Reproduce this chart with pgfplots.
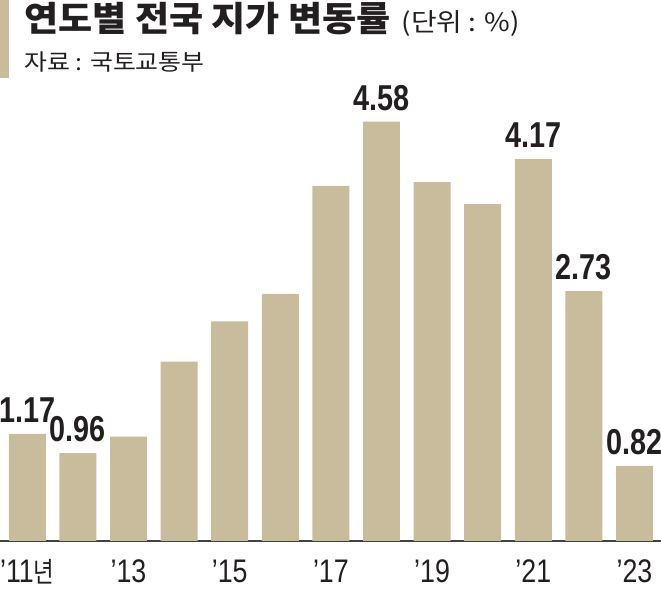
\documentclass[border=0pt]{standalone}
\usepackage{fontspec}
\usepackage{pgfplots}
\pgfplotsset{compat=1.18}
\usepackage{pgfplotstable}
\setmainfont{Liberation Sans}
\newfontfamily\kr[FakeStretch=1.1]{Noto Sans CJK KR}
\newfontfamily\krt[FakeStretch=1.07]{Noto Sans CJK KR}
\newfontfamily\krn[FakeStretch=0.8]{Noto Sans CJK KR}
\newfontfamily\numb[FakeStretch=0.8]{Liberation Sans}
\newfontfamily\tickf[FakeStretch=0.82]{Liberation Sans}
\definecolor{barc}{HTML}{C8BC9C}
\definecolor{ink}{HTML}{231F20}
\pgfplotstableread{
x y label
0 1.17 1.17
1 0.96 0.96
2 1.14 {}
3 1.96 {}
4 2.40 {}
5 2.70 {}
6 3.88 {}
7 4.58 4.58
8 3.92 {}
9 3.68 {}
10 4.17 4.17
11 2.73 2.73
12 0.82 0.82
}\landdata
\begin{document}
\begin{tikzpicture}
\useasboundingbox (0,0) rectangle (495.75pt,443.25pt);
\begin{axis}[
  at={(0pt,37.5pt)}, anchor=south west,
  scale only axis, width=495.75pt, height=343.3pt,
  xmin=-0.54, xmax=12.524, ymin=0, ymax=5,
  ybar, bar width=0.73, bar shift=0pt,
  axis y line=none, axis x line=bottom,
  x axis line style={-, draw=ink!85, line width=1.1pt},
  major tick length=0pt,
  xtick={0,2,...,12},
  xticklabels={’11{\krn\fontsize{21}{21}\selectfont 년},’13,’15,’17,’19,’21,’23},
  xticklabel style={anchor=base, yshift=-31.5pt, text=ink,
    font=\tickf\fontsize{24.5}{24.5}\selectfont},
  nodes near coords={\pgfplotspointmeta},
  point meta=explicit symbolic,
  every node near coord/.append style={anchor=south, inner sep=0pt, yshift=8.25pt,
    text=ink, font=\numb\bfseries\fontsize{27}{27}\selectfont},
  clip=false,
]
\addplot[fill=barc, draw=none] table[x=x, y=y, meta=label] {\landdata};
\end{axis}
\fill[barc] (0pt,384.75pt) rectangle (6.4pt,443.25pt);
\node[anchor=base west, inner sep=0pt, text=ink] at (18pt,419.25pt)
  {\krt\bfseries\fontsize{26}{26}\selectfont 연도별 전국 지가 변동률};
\node[anchor=base west, inner sep=0pt, text=ink] at (301pt,419.25pt)
  {\kr\fontsize{19}{19}\selectfont (단위 : \%)};
\node[anchor=base west, inner sep=0pt, text=ink] at (18pt,390pt)
  {\kr\fontsize{17}{17}\selectfont 자료 : 국토교통부};
\end{tikzpicture}
\end{document}
